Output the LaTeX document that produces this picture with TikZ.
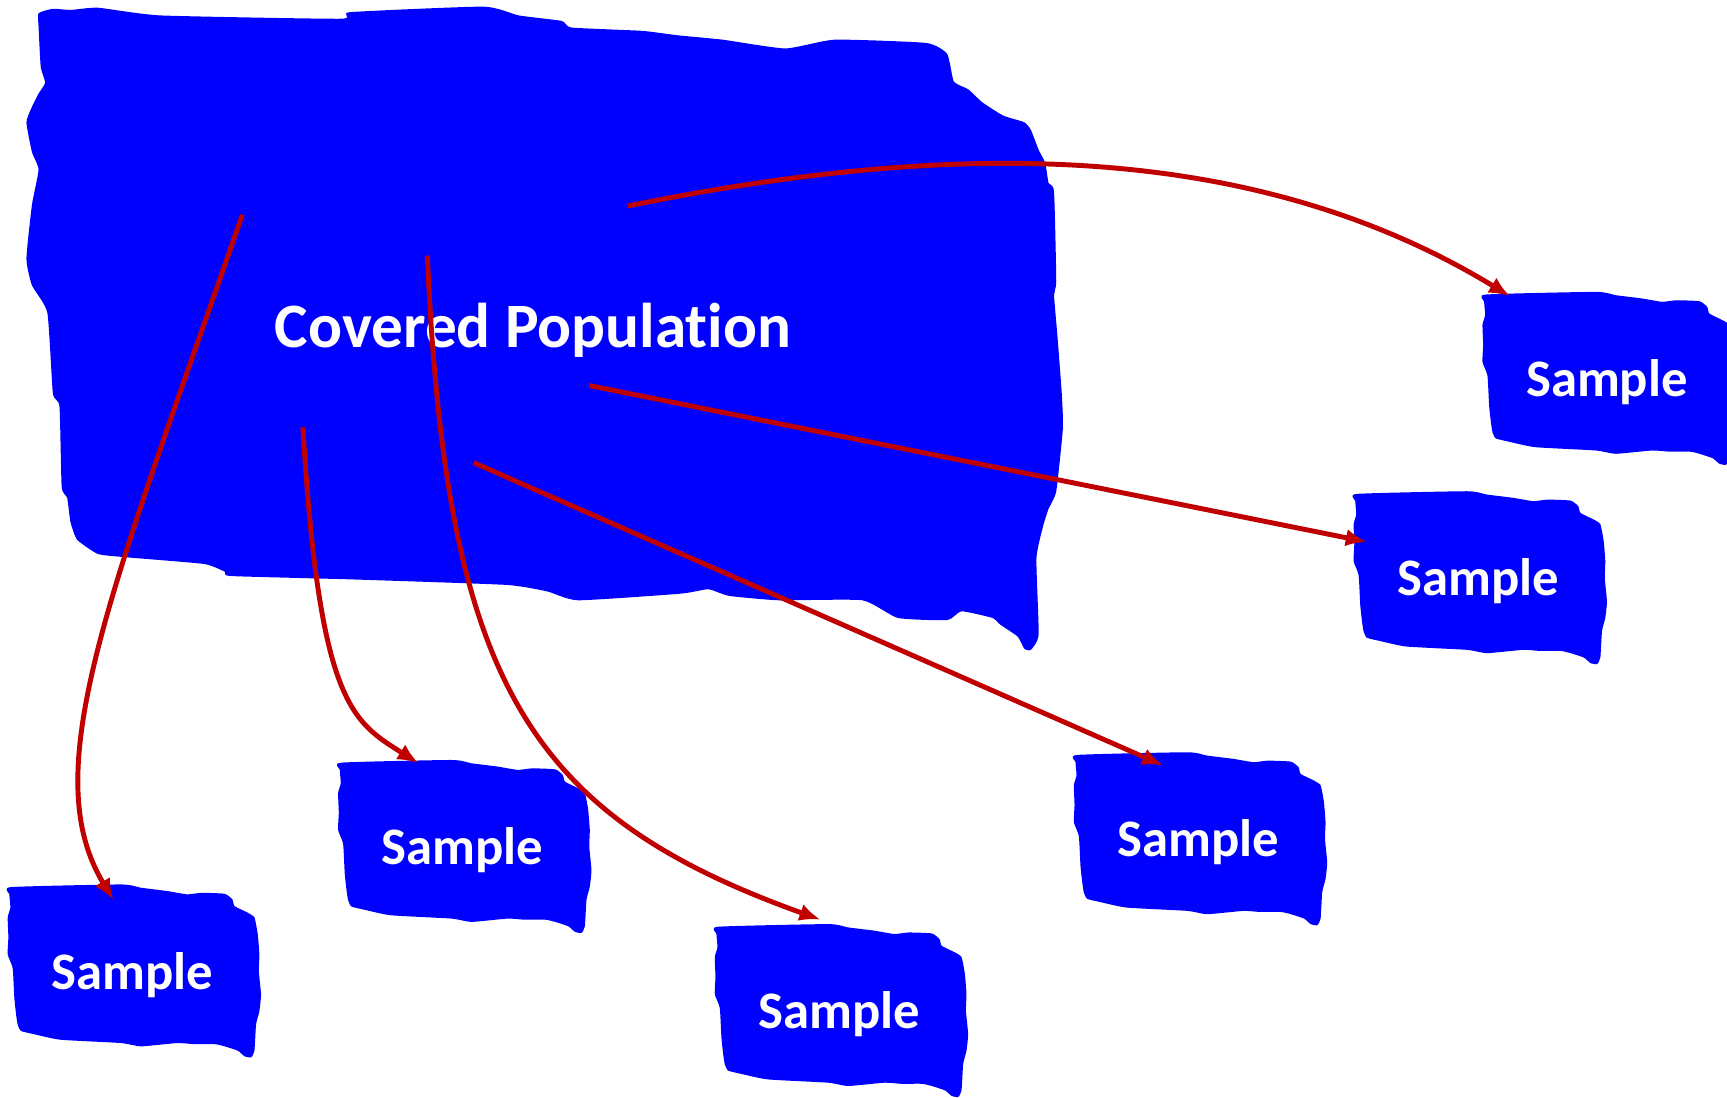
\documentclass[tikz,border=0pt]{standalone}
\usepackage{fontspec}
\setmainfont{Carlito}[Ligatures=NoCommon]
\usepackage{xcolor}
\usepackage{tikz}
\usetikzlibrary{arrows.meta}
\definecolor{popblue}{RGB}{0,0,255}
\definecolor{linkred}{RGB}{192,0,0}
\tikzstyle{blob}=[fill=popblue]
\tikzstyle{poptext}=[text=white,font=\fontsize{18}{21}\selectfont\bfseries]
\tikzstyle{smptext}=[text=white,font=\fontsize{15}{18}\selectfont\bfseries]
\tikzstyle{link}=[linkred,line width=1.4pt,->]

\begin{document}
\begin{tikzpicture}[
            x=0.011014cm,y=-0.011014cm,
            >={Latex[length=6pt,width=5pt]}
        ]
        \useasboundingbox (0,0) rectangle (1568,996);
        % covered population
        \fill[blob] plot[smooth cycle,tension=0.3] coordinates {
            (35,12) (48,8) (64,9) (89,7) (146,14) (309,17) (318,11) (439,6)
            (471,14) (510,19) (519,25) (583,28) (615,32) (656,36) (713,44)
            (758,36) (841,39) (860,49) (866,74) (879,81) (892,93) (911,105)
            (930,111) (936,118) (943,136) (949,148) (952,166) (957,174)
            (959,255) (957,268) (960,304) (964,357) (965,389) (959,446)
            (952,462) (947,478) (941,507) (943,576) (936,590) (930,589)
            (924,578) (908,567) (901,561) (873,555) (860,563) (815,561)
            (783,545) (707,545) (662,541) (643,535) (618,539) (525,545)
            (497,537) (459,531) (318,526) (210,523) (204,519) (185,512)
            (115,506) (89,503) (70,490) (64,474) (61,452) (56,442) (54,369)
            (48,357) (43,284) (29,259) (24,235) (29,186) (35,154) (29,138)
            (24,111) (29,97) (35,85) (41,75) (37,61) (35,24)};
        \node[poptext] (pop) at (484,300) {Covered Population};
        % samples
        \foreach \i/\x/\y in {1/1346/265,2/1229/446,3/975/683,4/649/839,5/307/690,6/7/803}{
            \fill[blob,shift={(\x,\y)}] plot[smooth cycle,tension=0.3] coordinates {
                (3,2.4) (103,0) (121,3) (145,6) (163,9) (176,7.6) (197,8.5)
                (204,13.6) (206,19.7) (218,25.7) (224,30) (227,45) (228.5,63.6)
                (228,78.7) (230,100) (228.5,115) (225.5,127) (224,151) (221,157)
                (215,156) (209,151) (197,147) (188,145) (169,145) (154,144)
                (121,147) (103,144) (48,141) (24,136) (12,133) (9,127)
                (7.6,118) (6,103) (4.5,76) (0,63.6) (0.6,48) (0,30) (2.4,21)
                (1.5,9)};
            \node[smptext] (s\i) at (\x+113,\y+82) {Sample};
        }
        % arrows
        \coordinate (a1) at (570,187);  \coordinate (b1) at (1371,269);
        \coordinate (a2) at (535,350);  \coordinate (b2) at (1241,492);
        \coordinate (a3) at (430,420);  \coordinate (b3) at (1056,695);
        \coordinate (a4) at (388,232);  \coordinate (b4) at (745,835);
        \coordinate (a5) at (275,388);  \coordinate (b5) at (380,693);
        \coordinate (a6) at (220,195);  \coordinate (b6) at (103,817);
        \draw[link] (a1) .. controls (850,130) and (1130,122) .. (b1);
        \draw[link] (a2) -- (b2);
        \draw[link] (a3) -- (b3);
        \draw[link] (a4) .. controls (405,620) and (480,740) .. (b4);
        \draw[link] (a5) .. controls (290,640) and (320,655) .. (b5);
        \draw[link] (a6) .. controls (100,540) and (32,700) .. (b6);
    \end{tikzpicture}
\end{document}
